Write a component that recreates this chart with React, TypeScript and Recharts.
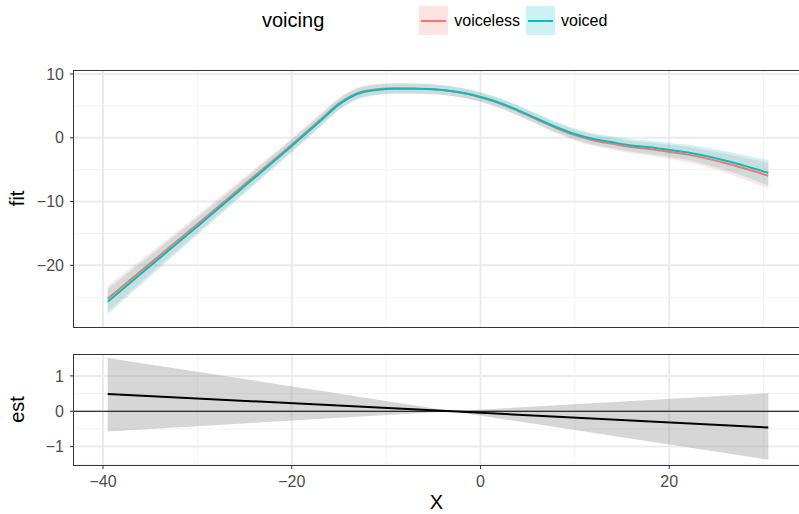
import React from "react";
import {
  ComposedChart,
  Area,
  Line,
  XAxis,
  YAxis,
  CartesianGrid,
  ReferenceLine,
  Label,
} from "recharts";

// x positions of the smooths
const xs = [
  -39.5, -35, -30, -25, -20, -17, -15, -13, -11, -9, -7, -5, -3, -1, 0, 2, 4, 6,
  8, 10, 12, 14, 16, 18, 20, 22, 24, 26, 28, 30.5,
];

const voicelessFit = [
  -25.23, -19.69, -13.55, -7.31, -1.08, 2.78, 5.35, 7.02, 7.6, 7.77, 7.74, 7.62,
  7.29, 6.76, 6.35, 5.42, 4.2, 2.87, 1.54, 0.42, -0.41, -0.93, -1.46, -1.79,
  -2.21, -2.64, -3.27, -3.99, -4.82, -5.95,
];
const voicelessLo = [
  -27.23, -21.34, -14.9, -8.46, -2.08, 1.83, 4.45, 6.17, 6.78, 6.97, 6.96, 6.86,
  6.54, 6.01, 5.6, 4.66, 3.42, 2.07, 0.72, -0.43, -1.29, -1.85, -2.43, -2.82,
  -3.31, -3.84, -4.59, -5.47, -6.5, -7.95,
];
const voicelessHi = [
  -23.23, -18.04, -12.2, -6.16, -0.08, 3.73, 6.25, 7.87, 8.42, 8.57, 8.52, 8.38,
  8.04, 7.51, 7.1, 6.18, 4.98, 3.67, 2.36, 1.27, 0.47, -0.01, -0.49, -0.76,
  -1.11, -1.44, -1.95, -2.51, -3.14, -3.95,
];

const voicedFit = [
  -25.7, -20.1, -13.9, -7.6, -1.3, 2.6, 5.2, 6.9, 7.5, 7.7, 7.7, 7.6, 7.3, 6.8,
  6.4, 5.5, 4.3, 3.0, 1.7, 0.6, -0.2, -0.7, -1.2, -1.5, -1.9, -2.3, -2.9, -3.6,
  -4.4, -5.5,
];
const voicedLo = [
  -27.7, -21.75, -15.25, -8.75, -2.3, 1.65, 4.3, 6.05, 6.68, 6.9, 6.92, 6.84,
  6.55, 6.05, 5.65, 4.74, 3.52, 2.2, 0.88, -0.25, -1.08, -1.62, -2.17, -2.53,
  -3.0, -3.5, -4.22, -5.08, -6.08, -7.5,
];
const voicedHi = [
  -23.7, -18.45, -12.55, -6.45, -0.3, 3.55, 6.1, 7.75, 8.32, 8.5, 8.48, 8.36,
  8.05, 7.55, 7.15, 6.26, 5.08, 3.8, 2.52, 1.45, 0.68, 0.22, -0.23, -0.47, -0.8,
  -1.1, -1.58, -2.12, -2.72, -3.5,
];

// difference smooth (lower panel)
const estX = [-39.5, -3, 30.5];
const estFit = [0.49, 0.0, -0.46];
const estLo = [-0.57, 0.0, -1.37];
const estHi = [1.51, 0.0, 0.51];

// ticks / grid
const xTicks = [-40, -20, 0, 20];
const xMinor = [-30, -10, 10, 30];
const fitTicks = [-20, -10, 0, 10];
const fitMinor = [-25, -15, -5, 5];
const estTicks = [-1, 0, 1];
const estMinor = [-1.5, -0.5, 0.5, 1.5];

const X_DOMAIN: [number, number] = [-43.07, 33.75];

const fitRows = xs.map((x, i) => ({
  x,
  voiceless: voicelessFit[i],
  voiced: voicedFit[i],
  voicelessBand: [voicelessLo[i], voicelessHi[i]],
  voicedBand: [voicedLo[i], voicedHi[i]],
}));

const estRows = estX.map((x, i) => ({
  x,
  est: estFit[i],
  band: [estLo[i], estHi[i]],
}));

const RED = "#F8766D";
const TEAL = "#00BFC4";
const tickStyle = { fontSize: 16, fill: "#4d4d4d" };
const minus = (v: number) => String(v).replace("-", "\u2212");

const yTitle = (text: string) => (props: any) => {
  const vb = props.viewBox || { y: 0, height: 0 };
  const cx = 17;
  const cy = vb.y + vb.height / 2;
  return (
    <text
      x={cx}
      y={cy}
      transform={`rotate(-90, ${cx}, ${cy})`}
      textAnchor="middle"
      dominantBaseline="central"
      fontSize={20}
      fill="#000"
    >
      {text}
    </text>
  );
};

const border = (top: number, height: number) => (
  <div
    style={{
      position: "absolute",
      left: 73,
      top,
      width: 726,
      height,
      borderLeft: "1.5px solid #333",
      borderTop: "1.5px solid #333",
      borderBottom: "1.5px solid #333",
      boxSizing: "border-box",
      pointerEvents: "none",
    }}
  />
);

function LegendKey({ color, label }: { color: string; label: string }) {
  return (
    <div style={{ display: "flex", alignItems: "center", marginRight: 6 }}>
      <div style={{ width: 29, height: 29, background: color, position: "relative" }}>
        <div
          style={{ position: "absolute", inset: 0, background: "#fff", opacity: 0.8 }}
        />
        <div
          style={{
            position: "absolute",
            left: 2,
            right: 2,
            top: 13.5,
            height: 2,
            background: color,
          }}
        />
      </div>
      <span style={{ fontSize: 16, marginLeft: 6, color: "#000" }}>{label}</span>
    </div>
  );
}

export default function App() {
  return (
    <div
      style={{
        position: "absolute",
        left: 0,
        top: 0,
        width: 799,
        height: 514,
        background: "#fff",
        fontFamily: "'Liberation Sans', Arial, sans-serif",
        overflow: "hidden",
      }}
    >
      {/* legend */}
      <div
        style={{
          position: "absolute",
          left: 262,
          top: 6,
          height: 29,
          display: "flex",
          alignItems: "center",
        }}
      >
        <span style={{ fontSize: 20, marginRight: 95 }}>voicing</span>
        <LegendKey color={RED} label="voiceless" />
        <LegendKey color={TEAL} label="voiced" />
      </div>

      {/* upper panel: fit */}
      <div style={{ position: "absolute", left: 0, top: 0 }}>
        <ComposedChart
          width={799}
          height={330}
          data={fitRows}
          margin={{ top: 70, right: 0, bottom: 3.3, left: 0 }}
        >
          <CartesianGrid
            stroke="#f2f2f2"
            strokeWidth={1}
            verticalValues={xMinor}
            horizontalValues={fitMinor}
          />
          <CartesianGrid
            stroke="#ebebeb"
            strokeWidth={2}
            verticalValues={xTicks}
            horizontalValues={fitTicks}
          />
          <XAxis
            type="number"
            dataKey="x"
            domain={X_DOMAIN}
            allowDataOverflow
            ticks={xTicks}
            hide
          />
          <YAxis
            type="number"
            domain={[-29.62, 10.63]}
            allowDataOverflow
            ticks={fitTicks}
            width={74}
            tick={tickStyle}
            tickSize={4}
            tickMargin={6}
            axisLine={false}
            tickLine={{ stroke: "#333" }}
            tickFormatter={minus}
          >
            <Label content={yTitle("fit")} />
          </YAxis>
          <Area
            type="monotone"
            dataKey="voicelessBand"
            stroke="none"
            fill={RED}
            fillOpacity={0.2}
            isAnimationActive={false}
          />
          <Area
            type="monotone"
            dataKey="voicedBand"
            stroke="none"
            fill={TEAL}
            fillOpacity={0.2}
            isAnimationActive={false}
          />
          <Line
            type="monotone"
            dataKey="voiceless"
            stroke={RED}
            strokeWidth={2}
            dot={false}
            isAnimationActive={false}
          />
          <Line
            type="monotone"
            dataKey="voiced"
            stroke={TEAL}
            strokeWidth={2}
            dot={false}
            isAnimationActive={false}
          />
        </ComposedChart>
      </div>
      {border(69.5, 258)}

      {/* lower panel: est */}
      <div style={{ position: "absolute", left: 0, top: 330 }}>
        <ComposedChart
          width={799}
          height={184}
          data={estRows}
          margin={{ top: 24, right: 0, bottom: 0, left: 0 }}
        >
          <CartesianGrid
            stroke="#f2f2f2"
            strokeWidth={1}
            verticalValues={xMinor}
            horizontalValues={estMinor}
          />
          <CartesianGrid
            stroke="#ebebeb"
            strokeWidth={2}
            verticalValues={xTicks}
            horizontalValues={estTicks}
          />
          <XAxis
            type="number"
            dataKey="x"
            domain={X_DOMAIN}
            allowDataOverflow
            ticks={xTicks}
            height={49}
            tick={tickStyle}
            tickSize={4}
            tickMargin={7}
            axisLine={false}
            tickLine={{ stroke: "#333" }}
            tickFormatter={minus}
          >
            <Label
              value="X"
              position="insideBottom"
              offset={5}
              fontSize={20}
              fill="#000"
            />
          </XAxis>
          <YAxis
            type="number"
            domain={[-1.52, 1.62]}
            allowDataOverflow
            ticks={estTicks}
            width={74}
            tick={tickStyle}
            tickSize={4}
            tickMargin={6}
            axisLine={false}
            tickLine={{ stroke: "#333" }}
            tickFormatter={minus}
          >
            <Label content={yTitle("est")} />
          </YAxis>
          <Area
            type="linear"
            dataKey="band"
            stroke="none"
            fill="#999999"
            fillOpacity={0.4}
            isAnimationActive={false}
          />
          <ReferenceLine y={0} stroke="#000" strokeWidth={1} />
          <Line
            type="linear"
            dataKey="est"
            stroke="#000"
            strokeWidth={2}
            dot={false}
            isAnimationActive={false}
          />
        </ComposedChart>
      </div>
      {border(353.5, 112)}
    </div>
  );
}
